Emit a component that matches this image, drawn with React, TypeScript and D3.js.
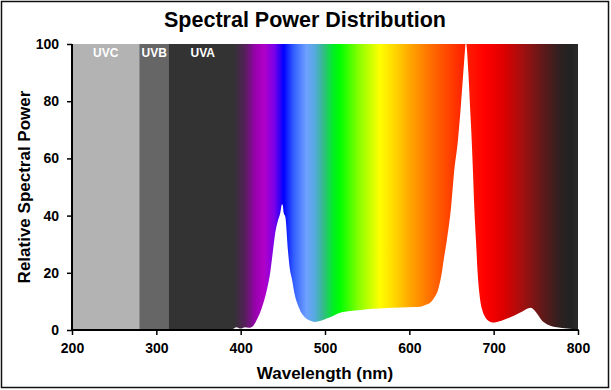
import { useEffect, useRef } from "react";
import * as d3 from "d3";

// spectral power distribution
const wavelengths = [
  380, 390, 395, 400, 405, 410, 415, 419, 423, 427, 431, 435, 438, 441, 444, 447, 449, 450, 451, 453,
  456, 458, 461, 464, 467, 471, 476, 482, 488, 495, 502, 510, 518, 530, 542, 557, 573, 590, 605, 613,
  619, 625, 630, 634, 638.5, 641, 644.5, 649.5, 653, 657.5, 661, 664, 666, 667, 668, 670, 672, 674,
  675.5, 677, 679, 681, 684, 687, 690, 695, 699, 704, 710, 716, 724, 731, 737, 741, 744, 748, 752,
  756, 760, 767, 775, 787, 800,
];
const power = [
  0, 0.3, 1, 0.5, 1, 0.8, 1.5, 3.5, 6, 9.5, 14, 20, 27, 34, 38, 41, 44, 43.5, 41, 39.5,
  28, 22, 17.5, 12.5, 9.4, 6.5, 4.5, 3.3, 2.8, 3.2, 4, 5, 6, 6.6, 7, 7.4, 7.7, 7.9, 8, 8.1,
  8.7, 9.6, 11.5, 14, 20, 25, 31.5, 43, 55, 66, 78, 90, 98, 101, 99, 90, 78, 66,
  55, 43, 31.5, 20, 10.5, 6.5, 4.5, 3, 2.6, 2.8, 3.3, 4, 5, 6, 7, 7.6, 7.8, 7, 5.5,
  3.8, 2.6, 1.5, 1, 0.5, 0.3,
];

// UV bands
const uvNames = ["UVC", "UVB", "UVA"];
const uvStart = [200, 280, 315];
const uvEnd = [280, 315, 392];
const uvColors = ["#b3b3b3", "#666666", "#333333"];

// visible spectrum colour stops
const stopNm = [
  392, 405, 418, 428, 440, 451, 463, 478, 488, 498, 510, 518, 540, 565, 582, 600, 620, 640, 665,
  690, 712, 735, 758, 778, 790, 800,
];
const stopColors = [
  "#333333", "#55205a", "#9a00b0", "#b000c8", "#7a00e8", "#0000ff", "#3360ff", "#6fa0ff", "#55aadd",
  "#33bb88", "#00ee22", "#00ff00", "#88ff00", "#ffff00", "#ffd800", "#ffa800", "#ff7a00", "#ff5000",
  "#ff2000", "#ff0000", "#dd0000", "#a01010", "#601818", "#302020", "#222222", "#2a2a2a",
];

const xTicks = [200, 300, 400, 500, 600, 700, 800];
const yTicks = [0, 20, 40, 60, 80, 100];

const W = 611;
const H = 390;
const m = { left: 72, right: 578, top: 44, bottom: 330 };
const font = "Arial, 'Liberation Sans', Helvetica, sans-serif";

const App = () => {
  const svgRef = useRef<SVGSVGElement | null>(null);

  useEffect(() => {
    if (!svgRef.current) return;
    const svg = d3.select(svgRef.current);
    svg.selectAll("*").remove();

    const x = d3.scaleLinear().domain([200, 800]).range([m.left, m.right]);
    const y = d3.scaleLinear().domain([0, 100]).range([m.bottom, m.top]);

    svg.append("rect").attr("width", W).attr("height", H).attr("fill", "#fff");
    svg.append("rect")
      .attr("x", 1.5).attr("y", 1.5).attr("width", 607).attr("height", 386)
      .attr("fill", "none").attr("stroke", "#111").attr("stroke-width", 1.5);

    const defs = svg.append("defs");
    defs.append("clipPath").attr("id", "plot-clip")
      .append("rect")
      .attr("x", m.left).attr("y", m.top)
      .attr("width", m.right - m.left).attr("height", m.bottom - m.top);

    const grad = defs.append("linearGradient")
      .attr("id", "spectrum")
      .attr("gradientUnits", "userSpaceOnUse")
      .attr("x1", x(stopNm[0])).attr("x2", x(stopNm[stopNm.length - 1]))
      .attr("y1", 0).attr("y2", 0);
    const span = stopNm[stopNm.length - 1] - stopNm[0];
    stopNm.forEach((nm, i) => {
      grad.append("stop")
        .attr("offset", (nm - stopNm[0]) / span)
        .attr("stop-color", stopColors[i]);
    });

    const plot = svg.append("g").attr("clip-path", "url(#plot-clip)");

    // background bands
    plot.selectAll("rect.uv")
      .data(uvNames)
      .join("rect")
      .attr("class", "uv")
      .attr("x", (_, i) => x(uvStart[i]))
      .attr("width", (_, i) => x(uvEnd[i]) - x(uvStart[i]) + 0.5)
      .attr("y", m.top)
      .attr("height", m.bottom - m.top)
      .attr("fill", (_, i) => uvColors[i]);

    plot.append("rect")
      .attr("x", x(stopNm[0]))
      .attr("width", x(800) - x(stopNm[0]))
      .attr("y", m.top)
      .attr("height", m.bottom - m.top)
      .attr("fill", "url(#spectrum)");

    // white SPD area
    const pts = wavelengths.map((w, i) => [w, power[i]] as [number, number]);
    const area = d3.area<[number, number]>()
      .x((d) => x(d[0]))
      .y0(y(0))
      .y1((d) => y(d[1]))
      .curve(d3.curveMonotoneX);
    plot.append("path").attr("d", area(pts)).attr("fill", "#fff");

    // UV labels
    svg.selectAll("text.uvlab")
      .data(uvNames)
      .join("text")
      .attr("class", "uvlab")
      .attr("x", (_, i) => (i === 2 ? x(355) : x((uvStart[i] + uvEnd[i]) / 2)))
      .attr("y", 56.5)
      .attr("text-anchor", "middle")
      .attr("fill", "#fff")
      .attr("font-family", font)
      .attr("font-weight", "bold")
      .attr("font-size", 12)
      .text((d) => d);

    // axes
    const xAxis = svg.append("g")
      .attr("transform", `translate(0,${m.bottom})`)
      .call(d3.axisBottom(x).tickValues(xTicks).tickSize(5).tickPadding(8).tickFormat(d3.format("d")));
    const yAxis = svg.append("g")
      .attr("transform", `translate(${m.left},0)`)
      .call(d3.axisLeft(y).tickValues(yTicks).tickSize(5).tickPadding(8).tickFormat(d3.format("d")));

    [xAxis, yAxis].forEach((g) => {
      g.select(".domain").remove();
      g.selectAll(".tick line").attr("stroke", "#000").attr("stroke-width", 1.5);
      g.selectAll(".tick text")
        .attr("fill", "#000")
        .attr("font-family", font)
        .attr("font-weight", "bold")
        .attr("font-size", 14);
    });

    svg.append("line")
      .attr("x1", m.left - 1).attr("x2", m.right + 0.75)
      .attr("y1", m.bottom).attr("y2", m.bottom)
      .attr("stroke", "#000").attr("stroke-width", 2);
    svg.append("line")
      .attr("x1", m.left).attr("x2", m.left)
      .attr("y1", m.top).attr("y2", m.bottom)
      .attr("stroke", "#000").attr("stroke-width", 2);

    // titles
    svg.append("text")
      .attr("x", 305).attr("y", 27)
      .attr("text-anchor", "middle")
      .attr("font-family", font).attr("font-weight", "bold").attr("font-size", 21.5)
      .attr("fill", "#000")
      .text("Spectral Power Distribution");

    svg.append("text")
      .attr("x", (m.left + m.right) / 2).attr("y", 379)
      .attr("text-anchor", "middle")
      .attr("font-family", font).attr("font-weight", "bold").attr("font-size", 17)
      .attr("fill", "#000")
      .text("Wavelength (nm)");

    svg.append("text")
      .attr("transform", `translate(30,${(m.top + m.bottom) / 2}) rotate(-90)`)
      .attr("text-anchor", "middle")
      .attr("font-family", font).attr("font-weight", "bold").attr("font-size", 17)
      .attr("fill", "#000")
      .text("Relative Spectral Power");
  }, []);

  return (
    <svg
      ref={svgRef}
      width={W}
      height={H}
      viewBox={`0 0 ${W} ${H}`}
      style={{ position: "absolute", left: 0, top: 0, display: "block" }}
    />
  );
};

export default App;
